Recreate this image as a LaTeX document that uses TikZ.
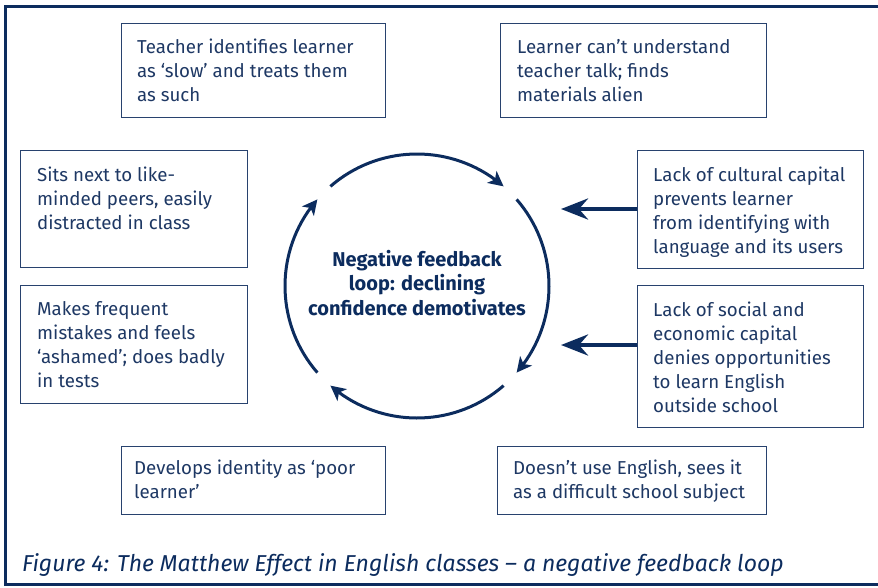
\documentclass[tikz,border=0pt]{standalone}
\usepackage{fontspec}
\setmainfont{Fira Sans}
\usetikzlibrary{arrows.meta,bending}
\definecolor{navy}{RGB}{12,44,94}
\definecolor{tnavy}{RGB}{30,56,100}
\definecolor{bnavy}{RGB}{40,66,110}
\begin{document}
\begin{tikzpicture}[x=1pt,y=-1pt,
  box/.style={draw=bnavy,line width=1.1pt,anchor=north west,inner sep=0pt,fill=none},
  txt/.style={anchor=north west,inner sep=0pt,align=left,text=tnavy,font=\fontsize{18.7}{24}\selectfont},
  loopline/.style={draw=navy,line width=3pt,-{Stealth[length=15pt,width=15pt,inset=4pt,flex]}},
  bigarrow/.style={draw=navy,line width=4.5pt,-{Stealth[length=27pt,width=21pt,inset=9pt]}},
  frameline/.style={draw=navy,line width=3pt}]
\useasboundingbox (0,0) rectangle (878,587);
\draw[frameline] (900,6) -- (5,6) -- (5,584) -- (900,584);
% boxes
\node[box,minimum width=264pt,minimum height=94pt] (b1) at (121,23) {};
\node[box,minimum width=266pt,minimum height=94pt] (b2) at (500,23) {};
\node[box,minimum width=227pt,minimum height=117pt] (b3) at (20,150) {};
\node[box,minimum width=227pt,minimum height=118pt] (b4) at (20,285) {};
\node[box,minimum width=226pt,minimum height=118pt] (b5) at (637,150) {};
\node[box,minimum width=226pt,minimum height=142pt] (b6) at (637,285) {};
\node[box,minimum width=264pt,minimum height=68pt] (b7) at (121,446) {};
\node[box,minimum width=269pt,minimum height=68pt] (b8) at (497,446) {};
% texts (first baseline minus 16.8)
\node[txt] (t1) at (137,36.2) {\strut Teacher identifies learner\\as ‘slow’ and treats them\\as such};
\node[txt] (t2) at (517,36.2) {\strut Learner can’t understand\\teacher talk; finds\\materials alien};
\node[txt] (t3) at (37,164.2) {\strut Sits next to like-\\minded peers, easily\\distracted in class};
\node[txt] (t4) at (37,298.2) {\strut Makes frequent\\mistakes and feels\\‘ashamed’; does badly\\in tests};
\node[txt] (t5) at (653,164.2) {\strut Lack of cultural capital\\prevents learner\\from identifying with\\language and its users};
\node[txt] (t6) at (653,299.2) {\strut Lack of social and\\economic capital\\denies opportunities\\to learn English\\outside school};
\node[txt] (t7) at (134,457.2) {\strut Develops identity as ‘poor\\learner’};
\node[txt] (t8) at (513,457.2) {\strut Doesn’t use English, sees it\\as a difficult school subject};
% centre
\coordinate (c) at (417,286);
\node[align=center,text=navy,inner sep=0pt,font=\fontsize{20}{24.5}\selectfont\bfseries] (loop) at (417,283) {Negative feedback\\loop: declining\\confidence demotivates};
\draw[loopline] ([shift={(c)}] 131:132pt) arc[start angle=131,end angle=49,radius=132pt];
\draw[loopline] ([shift={(c)}] 41:132pt) arc[start angle=41,end angle=-41,radius=132pt];
\draw[loopline] ([shift={(c)}] -49:132pt) arc[start angle=-49,end angle=-131,radius=132pt];
\draw[loopline] ([shift={(c)}] -139:132pt) arc[start angle=-139,end angle=-221,radius=132pt];
% straight arrows
\coordinate (e5) at (561,209);
\coordinate (e6) at (561,345);
\draw[bigarrow] (b5.west |- e5) -- (e5);
\draw[bigarrow] (b6.west |- e6) -- (e6);
% caption
\node[anchor=base west,inner sep=0pt,text=navy,font=\fontsize{23}{24}\selectfont\itshape] (cap) at (22,571) {Figure 4: The Matthew Effect in English classes – a negative feedback loop};
\end{tikzpicture}
\end{document}
